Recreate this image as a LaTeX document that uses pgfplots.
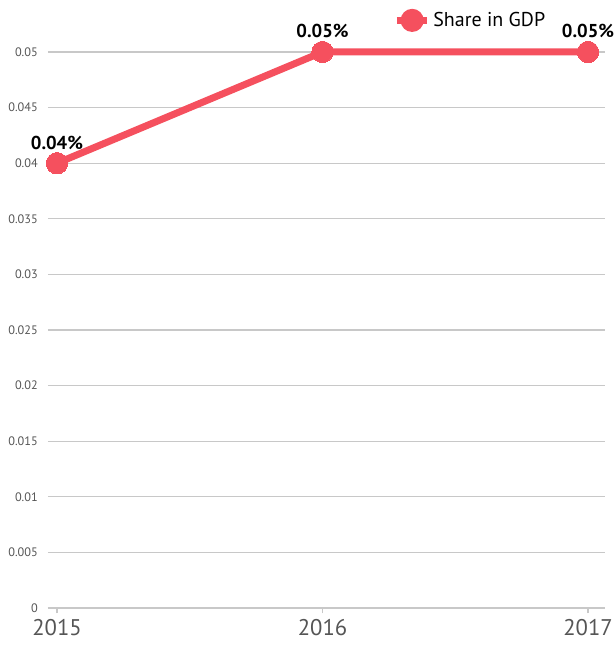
\documentclass[border=0pt]{standalone}
\usepackage{pgfplots}
\pgfplotsset{compat=1.18}
\usepackage{fontspec}
\setmainfont{PT Sans}
\definecolor{lred}{RGB}{245,80,94}
\definecolor{gridc}{RGB}{200,200,200}
\definecolor{tickc}{RGB}{85,85,85}
\begin{document}
\begin{tikzpicture}
\begin{axis}[
  name=ax,
  at={(0,0)}, anchor=origin,
  scale only axis,
  width=417.75pt, height=417pt,
  xmin=2014.9661, xmax=2017.064,
  ymin=0, ymax=0.05,
  clip=false,
  axis lines*=left,
  x axis line style={draw=gridc, line width=2.2pt, -},
  y axis line style={draw=none},
  xtick={2015,2016,2017},
  xticklabels={2015,2016,2017},
  xtick style={draw=gridc, line width=0.8pt},
  ytick style={draw=none},
  major tick length=4pt,
  xtick align=outside,
  scaled y ticks=false,
  ytick={0,0.005,...,0.0501},
  yticklabels={0,0.005,0.01,0.015,0.02,0.025,0.03,0.035,0.04,0.045,0.05},
  ymajorgrids,
  major grid style={draw=gridc, line width=0.8pt},
  x tick label style={font=\fontsize{17}{19}\selectfont, text=tickc, yshift=-1pt},
  y tick label style={font=\fontsize{9.2}{11}\selectfont, text=tickc, inner sep=0pt, xshift=-7.5pt},
  /pgf/number format/assume math mode=true,
  legend style={draw=none, fill=none, at={(axis description cs:0.898,1.078)}, anchor=north east, font=\fontsize{15}{17}\selectfont, inner sep=0pt},
  legend image code/.code={
    \draw[lred, line width=5pt] (-0.05cm,0cm) -- (0.75cm,0cm);
    \fill[lred] (0.35cm,0cm) circle (6pt);
  },
  nodes near coords,
  point meta=explicit symbolic,
  every node near coord/.append style={font=\fontsize{14}{16}\selectfont\bfseries, anchor=south, yshift=7pt, text=black},
]
\addplot[lred, line width=5.25pt, mark=*, mark size=8pt, mark options={fill=lred, draw=lred, line width=0pt}]
  coordinates {(2015,0.04)[0.04\%] (2016,0.05)[0.05\%] (2017,0.05)[0.05\%]};
\addlegendentry{Share in GDP}
\end{axis}
\pgfresetboundingbox
\useasboundingbox (-36pt,-31.5pt) rectangle (426pt,456pt);
\end{tikzpicture}
\end{document}
